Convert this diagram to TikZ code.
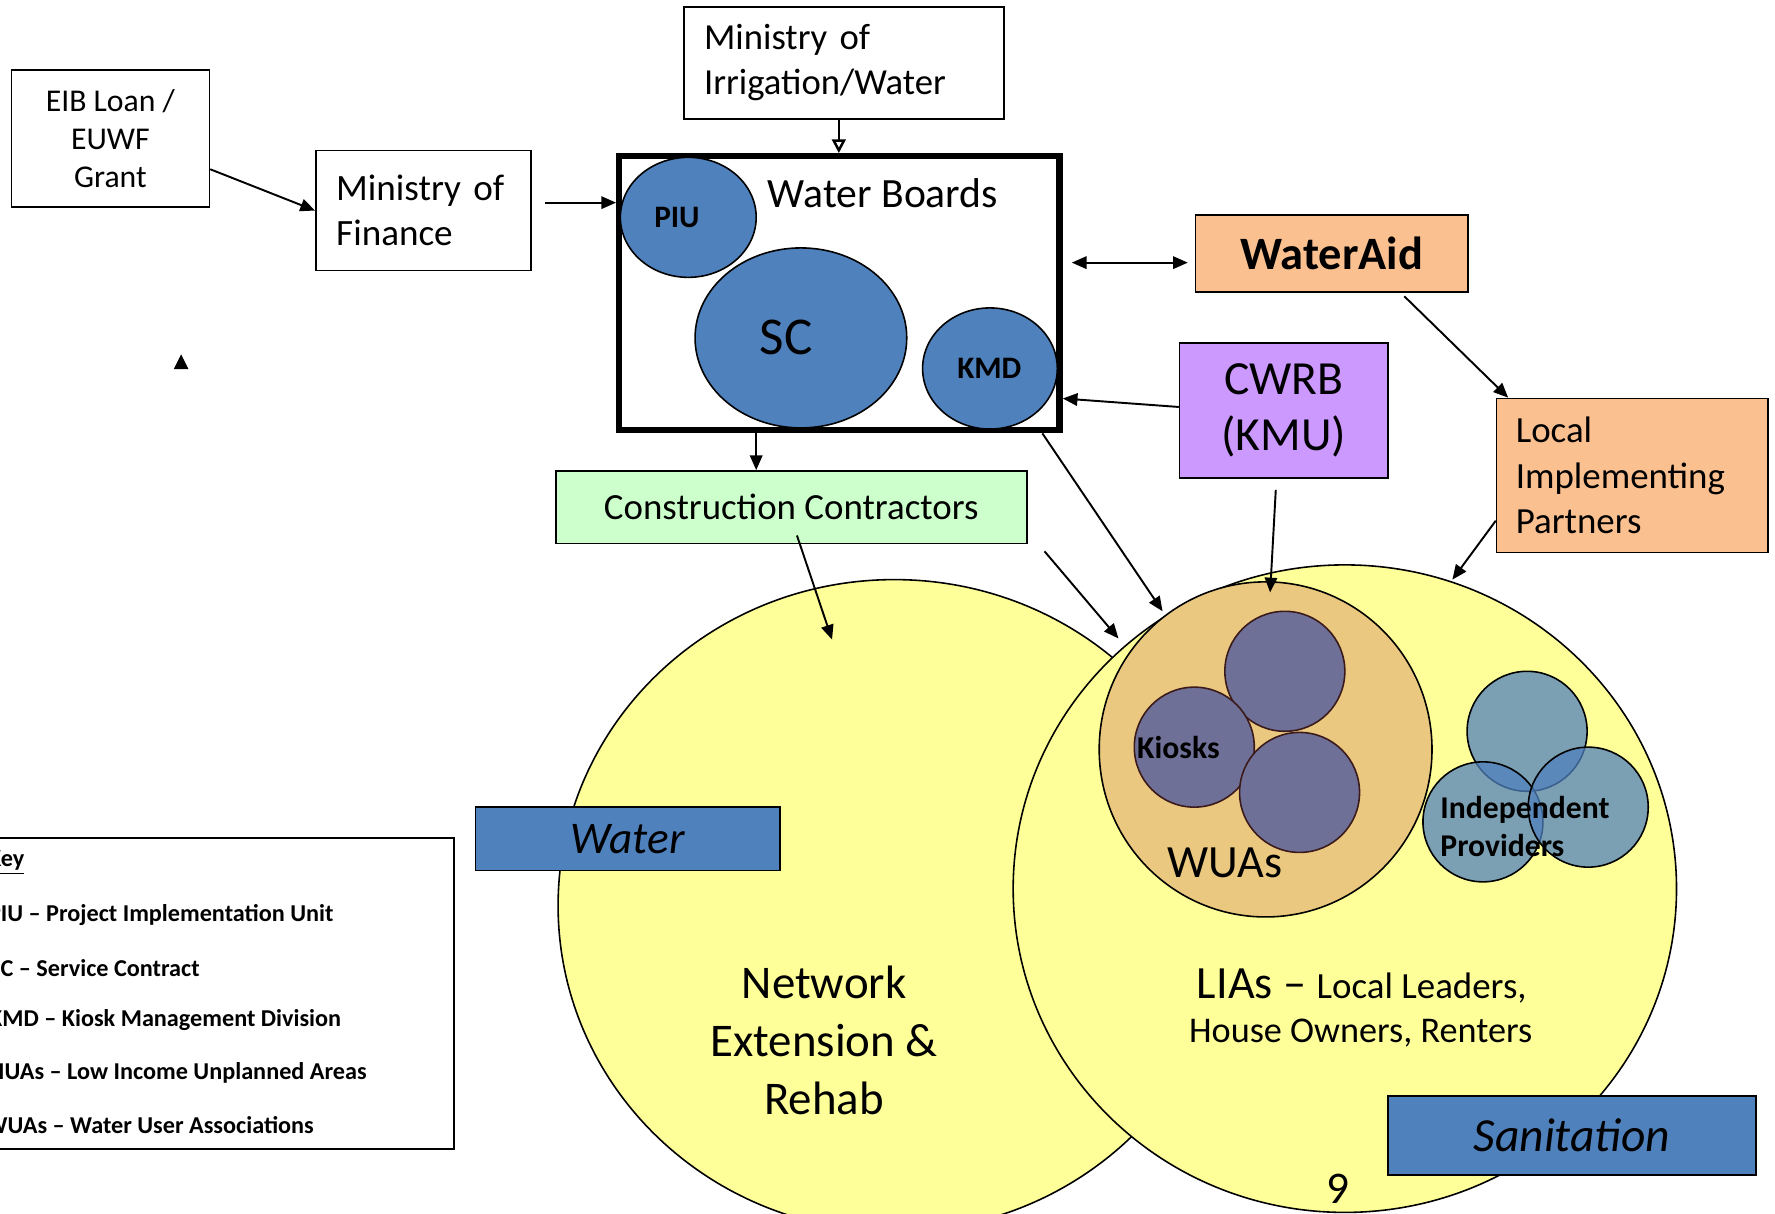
\documentclass[tikz,border=0pt]{standalone}
\usepackage{fontspec}
\setmainfont{Carlito}
\usetikzlibrary{arrows.meta,shapes.geometric,calc}
\definecolor{yel}{HTML}{FFFF99}
\definecolor{blu}{HTML}{4F81BD}
\definecolor{peach}{HTML}{FAC090}
\definecolor{lav}{HTML}{CC99FF}
\definecolor{mint}{HTML}{CCFFCC}
\definecolor{wuafill}{HTML}{EBC880}
\definecolor{kiosk}{HTML}{6F7097}
\definecolor{kedge}{HTML}{3A1A1A}
\newcommand\fs[2]{\fontsize{#1}{#2}\selectfont}
\begin{document}
\begin{tikzpicture}[x=0.5pt,y=-0.5pt,
  box/.style={draw,line width=0.7pt,inner sep=0pt},
  arr/.style={-{Triangle[length=6.5pt,width=5.5pt]},line width=0.85pt},
  openarr/.style={-{Triangle[open,length=6pt,width=6pt,line width=1.1pt]},line width=0.85pt},
  dbl/.style={{Triangle[length=6.5pt,width=5.5pt]}-{Triangle[length=6.5pt,width=5.5pt]},line width=0.85pt},
  blob/.style={ellipse,draw,line width=0.7pt,inner sep=0pt},
  txt/.style={inner sep=0pt}]
\useasboundingbox (0,0) rectangle (1568,1071.6);
\clip (0,0) rectangle (1568,1071.6);

% big circles
\node[blob,fill=yel,minimum width=297pt,minimum height=288pt] (watc) at (790,800) {};
\node[blob,fill=yel,minimum width=293pt,minimum height=286pt] (sanc) at (1188,785) {};
\node[blob,fill=wuafill,minimum width=147pt,minimum height=148pt] (wua) at (1118,662) {};
% kiosks
\node[blob,fill=kiosk,draw=kedge,minimum width=53pt,minimum height=53pt] (k1) at (1135,593) {};
\node[blob,fill=kiosk,draw=kedge,minimum width=53pt,minimum height=53pt] (k2) at (1055,660) {};
\node[blob,fill=kiosk,draw=kedge,minimum width=53pt,minimum height=53pt] (k3) at (1148,700) {};
% independent providers
\node[blob,fill=blu,fill opacity=0.75,minimum width=53pt,minimum height=53pt] (ip1) at (1349,646) {};
\node[blob,fill=blu,fill opacity=0.75,minimum width=53pt,minimum height=53pt] (ip2) at (1310,726) {};
\node[blob,fill=blu,fill opacity=0.75,minimum width=53pt,minimum height=53pt] (ip3) at (1403,713) {};

\node[txt,font=\fs{14}{16}\bfseries] (kt) at (1041,660) {Kiosks};
\node[txt,font=\fs{20.4}{24}] (wuat) at (1082,762) {WUAs};
\node[txt,anchor=west,align=left,font=\fs{14}{16.5}\bfseries] (ipt) at (1272,730) {Independent\\Providers};

% labels in circles
\node[txt,align=center,font=\fs{20.7}{25.5}] (net) at (728,919) {Network\\Extension \&\\Rehab};
\node[txt,font=\fs{20.4}{24}] (lia) at (1203,871) {LIAs – {\fs{16.3}{20}Local Leaders,}};
\node[txt,font=\fs{16}{20}] (ho) at (1202,913) {House Owners, Renters};
\node[txt,font=\fs{20}{24}] (pg) at (1182,1050) {9};

% blue label boxes
\node[box,fill=blu,minimum width=134.5pt,minimum height=28pt,font=\fs{20}{24}\itshape] (wl) at (554.5,741) {Water};
\node[box,fill=blu,minimum width=162.5pt,minimum height=35pt,font=\fs{21}{25}\itshape] (sl) at (1388.5,1003) {Sanitation};

% top boxes
\node[box,minimum width=87.5pt,minimum height=60.5pt,align=center,font=\fs{14}{16.75}] (eib) at (97.5,122.5) {EIB Loan /\\EUWF\\Grant};
\node[box,minimum width=95pt,minimum height=53pt,text width=77pt,align=left,font=\fs{16.4}{20}] (mof) at (374,186) {Ministry of\\Finance};
\node[box,minimum width=141.5pt,minimum height=49.5pt,text width=123.5pt,align=left,font=\fs{16.2}{20}] (mi) at (745.5,55.5) {Ministry of\\Irrigation/Water};
\node[draw,line width=2.8pt,inner sep=0pt,minimum width=194.5pt,minimum height=121pt] (wb) at (741.5,259) {};
\node[txt,font=\fs{18.4}{22}] (wbt) at (780,171) {Water Boards};
\node[blob,fill=blu,minimum width=60pt,minimum height=53pt] (piu) at (608,192) {};
\node[blob,fill=blu,minimum width=93.5pt,minimum height=79.5pt] (sc) at (707.5,298.5) {};
\node[blob,fill=blu,minimum width=59.5pt,minimum height=53.5pt] (kmd) at (874.5,325.5) {};
\node[txt,font=\fs{13.8}{16}\bfseries] (piut) at (598,192) {PIU};
\node[txt,font=\fs{23.5}{28}] (sct) at (694.5,298) {SC};
\node[txt,font=\fs{13.8}{16}\bfseries] (kmdt) at (874,325) {KMD};

\node[box,fill=peach,minimum width=120.5pt,minimum height=34pt,font=\fs{20.5}{24}\bfseries] (wa) at (1176.5,224) {WaterAid};
\node[box,fill=lav,minimum width=92pt,minimum height=59.5pt,align=center,font=\fs{21}{25}] (cwrb) at (1134,362.5) {CWRB\\(KMU)};
\node[box,fill=peach,minimum width=120pt,minimum height=68pt,text width=103pt,align=left,font=\fs{16.3}{20}] (lip) at (1442,420) {Local\\Implementing\\Partners};
\node[box,fill=mint,minimum width=208pt,minimum height=32pt,font=\fs{16.3}{20}] (cc) at (699,448) {Construction Contractors};

% key
\node[box,minimum width=215.5pt,minimum height=137.5pt] (key) at (185.5,877.5) {};
\begin{scope}[every node/.style={txt,anchor=west,font=\fs{10.7}{13}\bfseries}]
\node (k0) at (-11,762) {\underline{Key}};
\node (ka) at (-11,808) {PIU – Project Implementation Unit};
\node (kb) at (-10,855) {SC – Service Contract};
\node (kc) at (-10,901) {KMD – Kiosk Management Division};
\node (kd) at (-11,948) {LIUAs – Low Income Unplanned Areas};
\node (ke) at (-13,994) {WUAs – Water User Associations};
\end{scope}

% stray arrowhead
\fill (153.5,326) -- (166.5,326) -- (160,313) -- cycle;

% connectors
\draw[arr] ($(eib.east)+(0,27)$) -- (mof.west);
\draw[arr] ($(mof.east)+(12,-7)$) -- ($(wb.west)+(0,-80)$);
\draw[openarr] ($(mi.south)+(-4.5,0)$) coordinate (m1) -- (m1 |- wb.north);
\draw[dbl] ($(wb.east)+(8,-27)$) -- ($(wa.west)+(-6,8)$);
\draw[arr] ($(wa.south)+(64,3)$) -- ($(lip.north west)+(11,0)$);
\draw[arr] ($(cwrb.west)+(0,-3)$) -- ($(wb.east)+(0,93)$);
\draw[arr] ($(wb.south)+(-73.5,0)$) coordinate (w1) -- (w1 |- cc.north);
\draw[arr] ($(cc.center)+(5,25)$) -- ($(watc.center)+(-55,-235)$);
\draw[arr] ($(cc.east)+(15,39)$) -- ($(wua.center)+(-130,-98)$);
\draw[arr] ($(wb.south east)+(-18,0)$) -- ($(wua.center)+(-91,-122)$);
\draw[arr] ($(cwrb.south)+(-7,10)$) -- ($(wua.north)+(4,10)$);
\draw[arr] ($(lip.west)+(0,40)$) -- ($(sanc.center)+(95,-273)$);
\end{tikzpicture}
\end{document}
